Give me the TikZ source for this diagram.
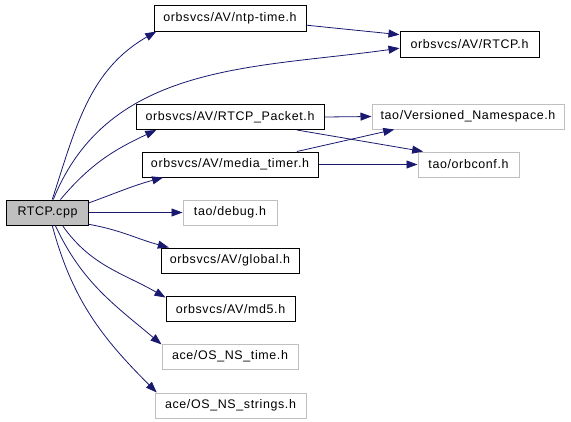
\documentclass[tikz,border=0pt]{standalone}
\usepackage{fontspec}
\setmainfont{Liberation Sans}[LetterSpace=5]
\usetikzlibrary{arrows.meta}
\definecolor{edgeblue}{HTML}{191970}
\definecolor{nodocgrey}{HTML}{BFBFBF}

\begin{document}
\begin{tikzpicture}[x=1bp, y=1bp, font=\fontsize{12.5}{14}\selectfont]
    \tikzstyle{file}=[rectangle, draw=black, line width=1bp, minimum height=25bp, inner sep=0pt]
    \tikzstyle{extfile}=[file, draw=nodocgrey]
    \tikzstyle{connect}=[-{Triangle[length=11bp,width=8bp]}, draw=edgeblue, line width=0.8bp]
    \useasboundingbox (0,0) rectangle (571,421);

      \node[file, fill=nodocgrey, minimum width=81bp] (cpp) at (47.5,208.5) {RTCP.cpp};
      \node[file, minimum width=152bp] (ntp) at (230,402.5) {orbsvcs/AV/ntp-time.h};
      \node[file, minimum width=139bp] (rtcph) at (469.5,376.5) {orbsvcs/AV/RTCP.h};
      \node[file, minimum width=188bp] (packet) at (230,304) {orbsvcs/AV/RTCP\_Packet.h};
      \node[file, minimum width=176bp] (mediatimer) at (230,256.5) {orbsvcs/AV/media\_timer.h};
      \node[extfile, minimum width=192bp] (versioned) at (468,304.5) {tao/Versioned\_Namespace.h};
      \node[extfile, minimum width=101bp] (orbconf) at (468.5,256.5) {tao/orbconf.h};
      \node[extfile, minimum width=94bp] (debug) at (230,208.5) {tao/debug.h};
      \node[file, minimum width=138bp] (global) at (230,160.5) {orbsvcs/AV/global.h};
      \node[file, minimum width=129bp] (md5) at (230.5,112) {orbsvcs/AV/md5.h};
      \node[extfile, minimum width=136bp] (ostime) at (230,64.5) {ace/OS\_NS\_time.h};
      \node[extfile, minimum width=151bp] (osstrings) at (230.5,15.5) {ace/OS\_NS\_strings.h};
      \path
        (cpp.70) edge [out=72, in=210, connect] (ntp.190)
        (cpp.66) edge [out=68, in=188, connect] (rtcph.183)
        (cpp.45) edge [out=50, in=205, connect] (packet.190)
        (cpp.13) edge [out=20, in=195, connect] (mediatimer.191)
        (cpp.east) edge [connect] (debug.west)
        (cpp.-16) edge [out=-10, in=165, connect] (global.168)
        (cpp.-41) edge [out=-55, in=150, connect] (md5.170)
        (cpp.-59) edge [out=-65, in=140, connect] (ostime.170)
        (cpp.-70) edge [out=-75, in=135, connect] (osstrings.170)
        (ntp.-5) edge [connect] (rtcph.172)
        (packet.east) edge [connect] (versioned.west)
        (packet.-11) edge [connect] (orbconf.164)
        (mediatimer.11) edge [connect] (versioned.190)
        (mediatimer.east) edge [connect] (orbconf.west);
\end{tikzpicture}
\end{document}
